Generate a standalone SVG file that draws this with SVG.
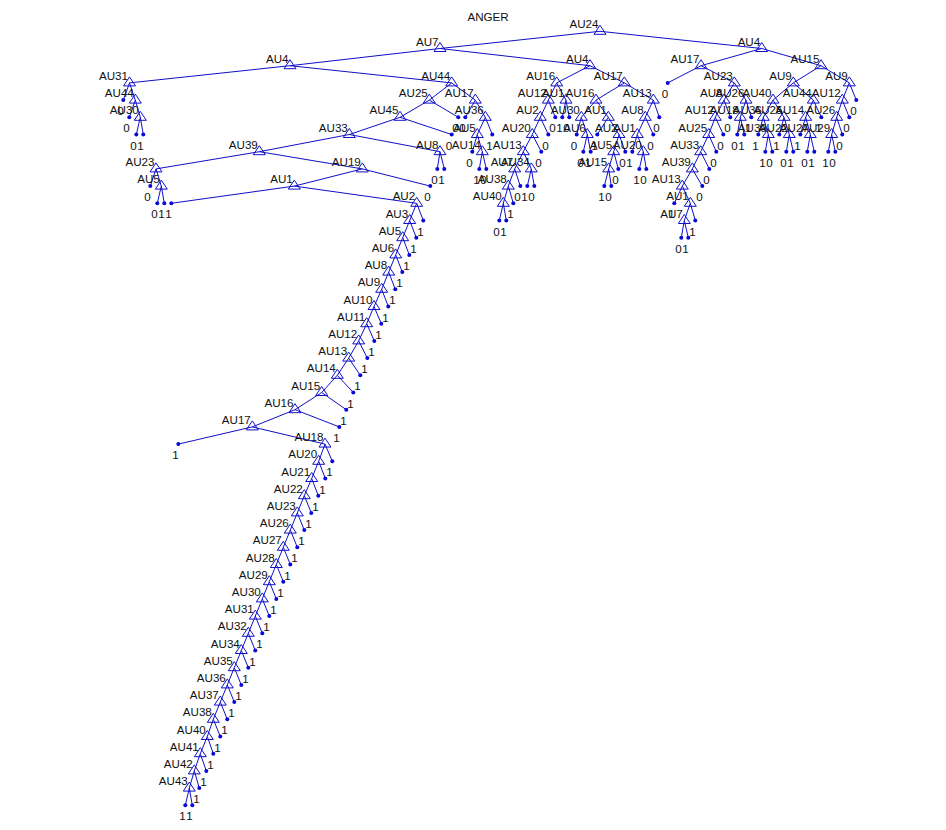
<svg xmlns="http://www.w3.org/2000/svg" width="946" height="830" viewBox="0 0 946 830">
<style>
text{font-family:"Liberation Sans",Arial,sans-serif;font-size:11.6px;fill:#111}
.a{text-anchor:end}
#edges path{fill:none;stroke:#1010c8;stroke-width:1}
.t{fill:none;stroke:#1010c8;stroke-width:1}
.d{fill:#0808d8}
</style>
<defs>
<polygon id="t" class="t" points="0,-6 6,3 -6,3"/>
<circle id="d" class="d" r="2"/>
</defs>
<rect width="946" height="830" fill="#fff"/>
<text id="title" x="467.5" y="20.7">ANGER</text>
<g id="edges">
<path d="M600 31.3L440 48.5"/><path d="M600 31.3L761.7 48.5"/>
<path d="M440 48.5L290 65.7"/><path d="M440 48.5L590 65.7"/>
<path d="M761.7 48.5L701 65.7"/><path d="M761.7 48.5L821 65.7"/>
<path d="M290 65.7L129.5 82.9"/><path d="M290 65.7L451.7 82.9"/>
<path d="M590 65.7L556.7 82.9"/><path d="M590 65.7L624.3 82.9"/>
<path d="M701 65.7L667.7 82.9"/><path d="M701 65.7L734.3 82.9"/>
<path d="M821 65.7L793.3 82.9"/><path d="M821 65.7L849.3 82.9"/>
<path d="M129.5 82.9L123.3 100.1"/><path d="M129.5 82.9L135.3 100.1"/>
<path d="M135.3 100.1L129.3 117.3"/><path d="M135.3 100.1L140.3 117.3"/>
<path d="M140.3 117.3L136.3 134.5"/><path d="M140.3 117.3L143.3 134.5"/>
<path d="M451.7 82.9L429.3 100.1"/><path d="M451.7 82.9L475.3 100.1"/>
<path d="M429.3 100.1L400 117.3"/><path d="M429.3 100.1L458.3 117.3"/>
<path d="M475.3 100.1L465.3 117.3"/><path d="M475.3 100.1L485.3 117.3"/>
<path d="M485.3 117.3L477.3 134.5"/><path d="M485.3 117.3L492.3 134.5"/>
<path d="M477.3 134.5L472.3 151.7"/><path d="M477.3 134.5L482.3 151.7"/>
<path d="M482.3 151.7L479.3 168.9"/><path d="M482.3 151.7L486.3 168.9"/>
<path d="M400 117.3L349.3 134.5"/><path d="M400 117.3L451.7 134.5"/>
<path d="M349.3 134.5L259.3 151.7"/><path d="M349.3 134.5L440 151.7"/>
<path d="M440 151.7L437.3 168.9"/><path d="M440 151.7L444.3 168.9"/>
<path d="M259.3 151.7L156 168.9"/><path d="M259.3 151.7L362.3 168.9"/>
<path d="M156 168.9L150.3 186.1"/><path d="M156 168.9L161.3 186.1"/>
<path d="M161.3 186.1L157.3 203.3"/><path d="M161.3 186.1L164.3 203.3"/>
<path d="M362.3 168.9L294.3 186.1"/><path d="M362.3 168.9L430.3 186.1"/>
<path d="M294.3 186.1L171.3 203.3"/><path d="M294.3 186.1L416.7 203.3"/>
<path d="M416.7 203.3L409.7 220.5"/><path d="M416.7 203.3L423.3 220.5"/>
<path d="M409.7 220.5L402.7 237.7"/><path d="M409.7 220.5L416.3 237.7"/>
<path d="M402.7 237.7L395.7 254.9"/><path d="M402.7 237.7L409.3 254.9"/>
<path d="M395.7 254.9L388.7 272.1"/><path d="M395.7 254.9L402.3 272.1"/>
<path d="M388.7 272.1L381.7 289.3"/><path d="M388.7 272.1L395.3 289.3"/>
<path d="M381.7 289.3L374 306.5"/><path d="M381.7 289.3L388.3 306.5"/>
<path d="M374 306.5L366.7 323.7"/><path d="M374 306.5L381.3 323.7"/>
<path d="M366.7 323.7L358.7 340.9"/><path d="M366.7 323.7L374.3 340.9"/>
<path d="M358.7 340.9L348.7 358.1"/><path d="M358.7 340.9L367.3 358.1"/>
<path d="M348.7 358.1L337.3 375.3"/><path d="M348.7 358.1L360.3 375.3"/>
<path d="M337.3 375.3L321.7 392.5"/><path d="M337.3 375.3L353.3 392.5"/>
<path d="M321.7 392.5L295 409.7"/><path d="M321.7 392.5L346.3 409.7"/>
<path d="M295 409.7L252.3 426.9"/><path d="M295 409.7L339.3 426.9"/>
<path d="M252.3 426.9L178.3 444.1"/><path d="M252.3 426.9L325 444.1"/>
<path d="M325 444.1L318.7 461.3"/><path d="M325 444.1L332.3 461.3"/>
<path d="M318.7 461.3L311.7 478.5"/><path d="M318.7 461.3L325.3 478.5"/>
<path d="M311.7 478.5L304.3 495.7"/><path d="M311.7 478.5L318.3 495.7"/>
<path d="M304.3 495.7L297.3 512.9"/><path d="M304.3 495.7L311.3 512.9"/>
<path d="M297.3 512.9L290.3 530.1"/><path d="M297.3 512.9L304.3 530.1"/>
<path d="M290.3 530.1L283.3 547.3"/><path d="M290.3 530.1L297.3 547.3"/>
<path d="M283.3 547.3L276.3 564.5"/><path d="M283.3 547.3L290.3 564.5"/>
<path d="M276.3 564.5L269.3 581.7"/><path d="M276.3 564.5L283.3 581.7"/>
<path d="M269.3 581.7L262.3 598.9"/><path d="M269.3 581.7L276.3 598.9"/>
<path d="M262.3 598.9L255.3 616.1"/><path d="M262.3 598.9L269.3 616.1"/>
<path d="M255.3 616.1L248.3 633.3"/><path d="M255.3 616.1L262.3 633.3"/>
<path d="M248.3 633.3L241.3 650.5"/><path d="M248.3 633.3L255.3 650.5"/>
<path d="M241.3 650.5L234.3 667.7"/><path d="M241.3 650.5L248.3 667.7"/>
<path d="M234.3 667.7L227.3 684.9"/><path d="M234.3 667.7L241.3 684.9"/>
<path d="M227.3 684.9L220.3 702.1"/><path d="M227.3 684.9L234.3 702.1"/>
<path d="M220.3 702.1L213.3 719.3"/><path d="M220.3 702.1L227.3 719.3"/>
<path d="M213.3 719.3L207.3 736.5"/><path d="M213.3 719.3L220.3 736.5"/>
<path d="M207.3 736.5L200.3 753.7"/><path d="M207.3 736.5L213.3 753.7"/>
<path d="M200.3 753.7L194.3 770.9"/><path d="M200.3 753.7L206.3 770.9"/>
<path d="M194.3 770.9L189.3 788.1"/><path d="M194.3 770.9L199.3 788.1"/>
<path d="M189.3 788.1L185.3 805.3"/><path d="M189.3 788.1L192.3 805.3"/>
<path d="M556.7 82.9L548.3 100.1"/><path d="M556.7 82.9L566 100.1"/>
<path d="M548.3 100.1L540.3 117.3"/><path d="M548.3 100.1L555.3 117.3"/>
<path d="M566 100.1L562.3 117.3"/><path d="M566 100.1L569.3 117.3"/>
<path d="M540.3 117.3L532.3 134.5"/><path d="M540.3 117.3L548.3 134.5"/>
<path d="M532.3 134.5L523.3 151.7"/><path d="M532.3 134.5L541.3 151.7"/>
<path d="M523.3 151.7L514.7 168.9"/><path d="M523.3 151.7L531.3 168.9"/>
<path d="M514.7 168.9L508.3 186.1"/><path d="M514.7 168.9L520.3 186.1"/>
<path d="M531.3 168.9L527.3 186.1"/><path d="M531.3 168.9L534.3 186.1"/>
<path d="M508.3 186.1L503.3 203.3"/><path d="M508.3 186.1L513.3 203.3"/>
<path d="M503.3 203.3L499.3 220.5"/><path d="M503.3 203.3L506.3 220.5"/>
<path d="M624.3 82.9L596 100.1"/><path d="M624.3 82.9L653.3 100.1"/>
<path d="M596 100.1L581.3 117.3"/><path d="M596 100.1L608.3 117.3"/>
<path d="M581.3 117.3L576.7 134.5"/><path d="M581.3 117.3L587.3 134.5"/>
<path d="M587.3 134.5L583.3 151.7"/><path d="M587.3 134.5L590.7 151.7"/>
<path d="M608.3 117.3L597.3 134.5"/><path d="M608.3 117.3L619 134.5"/>
<path d="M619 134.5L613.7 151.7"/><path d="M619 134.5L625.3 151.7"/>
<path d="M613.7 151.7L608.7 168.9"/><path d="M613.7 151.7L618.3 168.9"/>
<path d="M608.7 168.9L604.3 186.1"/><path d="M608.7 168.9L611.3 186.1"/>
<path d="M653.3 100.1L645.3 117.3"/><path d="M653.3 100.1L659.3 117.3"/>
<path d="M645.3 117.3L637.3 134.5"/><path d="M645.3 117.3L653.3 134.5"/>
<path d="M637.3 134.5L632.3 151.7"/><path d="M637.3 134.5L643.3 151.7"/>
<path d="M643.3 151.7L639.3 168.9"/><path d="M643.3 151.7L646.3 168.9"/>
<path d="M734.3 82.9L724 100.1"/><path d="M734.3 82.9L746 100.1"/>
<path d="M724 100.1L715.3 117.3"/><path d="M724 100.1L730.3 117.3"/>
<path d="M715.3 117.3L708.7 134.5"/><path d="M715.3 117.3L723.3 134.5"/>
<path d="M708.7 134.5L700.7 151.7"/><path d="M708.7 134.5L716.3 151.7"/>
<path d="M700.7 151.7L692.3 168.9"/><path d="M700.7 151.7L709.3 168.9"/>
<path d="M692.3 168.9L682.3 186.1"/><path d="M692.3 168.9L702.3 186.1"/>
<path d="M682.3 186.1L674.3 203.3"/><path d="M682.3 186.1L690.3 203.3"/>
<path d="M690.3 203.3L684.3 220.5"/><path d="M690.3 203.3L695.3 220.5"/>
<path d="M684.3 220.5L681.3 237.7"/><path d="M684.3 220.5L688.3 237.7"/>
<path d="M746 100.1L740.3 117.3"/><path d="M746 100.1L751.3 117.3"/>
<path d="M740.3 117.3L737.3 134.5"/><path d="M740.3 117.3L744.3 134.5"/>
<path d="M793.3 82.9L773 100.1"/><path d="M793.3 82.9L813.3 100.1"/>
<path d="M773 100.1L763.3 117.3"/><path d="M773 100.1L784 117.3"/>
<path d="M763.3 117.3L758.3 134.5"/><path d="M763.3 117.3L768.3 134.5"/>
<path d="M768.3 134.5L765.3 151.7"/><path d="M768.3 134.5L772.3 151.7"/>
<path d="M784 117.3L779.3 134.5"/><path d="M784 117.3L789.3 134.5"/>
<path d="M789.3 134.5L786.3 151.7"/><path d="M789.3 134.5L793.3 151.7"/>
<path d="M813.3 100.1L805.7 117.3"/><path d="M813.3 100.1L821.3 117.3"/>
<path d="M805.7 117.3L800.3 134.5"/><path d="M805.7 117.3L810.3 134.5"/>
<path d="M810.3 134.5L807.3 151.7"/><path d="M810.3 134.5L814.3 151.7"/>
<path d="M849.3 82.9L842.3 100.1"/><path d="M849.3 82.9L856.3 100.1"/>
<path d="M842.3 100.1L836.7 117.3"/><path d="M842.3 100.1L849.3 117.3"/>
<path d="M836.7 117.3L831.7 134.5"/><path d="M836.7 117.3L842.3 134.5"/>
<path d="M831.7 134.5L828.3 151.7"/><path d="M831.7 134.5L835.3 151.7"/>
</g>
<g id="nodes">
<g id="n1"><use href="#t" x="600" y="31.3"/><text class="a" x="598.5" y="28.3">AU24</text></g>
<g id="n2"><use href="#t" x="440" y="48.5"/><text class="a" x="438.5" y="45.5">AU7</text></g>
<g id="n3"><use href="#t" x="761.7" y="48.5"/><text class="a" x="760.2" y="45.5">AU4</text></g>
<g id="n4"><use href="#t" x="290" y="65.7"/><text class="a" x="288.5" y="62.7">AU4</text></g>
<g id="n5"><use href="#t" x="590" y="65.7"/><text class="a" x="588.5" y="62.7">AU4</text></g>
<g id="n6"><use href="#t" x="701" y="65.7"/><text class="a" x="699.5" y="62.7">AU17</text></g>
<g id="n7"><use href="#t" x="821" y="65.7"/><text class="a" x="819.5" y="62.7">AU15</text></g>
<g id="n8"><use href="#t" x="129.5" y="82.9"/><text class="a" x="128" y="79.9">AU31</text></g>
<g id="n9"><use href="#t" x="451.7" y="82.9"/><text class="a" x="450.2" y="79.9">AU44</text></g>
<g id="n10"><use href="#t" x="556.7" y="82.9"/><text class="a" x="555.2" y="79.9">AU16</text></g>
<g id="n11"><use href="#t" x="624.3" y="82.9"/><text class="a" x="622.8" y="79.9">AU17</text></g>
<g id="n12"><use href="#t" x="734.3" y="82.9"/><text class="a" x="732.8" y="79.9">AU23</text></g>
<g id="n13"><use href="#t" x="793.3" y="82.9"/><text class="a" x="791.8" y="79.9">AU9</text></g>
<g id="n14"><use href="#t" x="849.3" y="82.9"/><text class="a" x="847.8" y="79.9">AU9</text></g>
<g id="n15"><use href="#t" x="135.3" y="100.1"/><text class="a" x="133.8" y="97.1">AU44</text></g>
<g id="n16"><use href="#t" x="429.3" y="100.1"/><text class="a" x="427.8" y="97.1">AU25</text></g>
<g id="n17"><use href="#t" x="475.3" y="100.1"/><text class="a" x="473.8" y="97.1">AU17</text></g>
<g id="n18"><use href="#t" x="548.3" y="100.1"/><text class="a" x="546.8" y="97.1">AU12</text></g>
<g id="n19"><use href="#t" x="566" y="100.1"/><text class="a" x="564.5" y="97.1">AU1</text></g>
<g id="n20"><use href="#t" x="596" y="100.1"/><text class="a" x="594.5" y="97.1">AU16</text></g>
<g id="n21"><use href="#t" x="653.3" y="100.1"/><text class="a" x="651.8" y="97.1">AU13</text></g>
<g id="n22"><use href="#t" x="724" y="100.1"/><text class="a" x="722.5" y="97.1">AU8</text></g>
<g id="n23"><use href="#t" x="746" y="100.1"/><text class="a" x="744.5" y="97.1">AU26</text></g>
<g id="n24"><use href="#t" x="773" y="100.1"/><text class="a" x="771.5" y="97.1">AU40</text></g>
<g id="n25"><use href="#t" x="813.3" y="100.1"/><text class="a" x="811.8" y="97.1">AU44</text></g>
<g id="n26"><use href="#t" x="842.3" y="100.1"/><text class="a" x="840.8" y="97.1">AU12</text></g>
<g id="n27"><use href="#t" x="140.3" y="117.3"/><text class="a" x="138.8" y="114.3">AU30</text></g>
<g id="n28"><use href="#t" x="400" y="117.3"/><text class="a" x="398.5" y="114.3">AU45</text></g>
<g id="n29"><use href="#t" x="485.3" y="117.3"/><text class="a" x="483.8" y="114.3">AU36</text></g>
<g id="n30"><use href="#t" x="540.3" y="117.3"/><text class="a" x="538.8" y="114.3">AU2</text></g>
<g id="n31"><use href="#t" x="581.3" y="117.3"/><text class="a" x="579.8" y="114.3">AU30</text></g>
<g id="n32"><use href="#t" x="608.3" y="117.3"/><text class="a" x="606.8" y="114.3">AU1</text></g>
<g id="n33"><use href="#t" x="645.3" y="117.3"/><text class="a" x="643.8" y="114.3">AU8</text></g>
<g id="n34"><use href="#t" x="715.3" y="117.3"/><text class="a" x="713.8" y="114.3">AU12</text></g>
<g id="n35"><use href="#t" x="740.3" y="117.3"/><text class="a" x="738.8" y="114.3">AU18</text></g>
<g id="n36"><use href="#t" x="763.3" y="117.3"/><text class="a" x="761.8" y="114.3">AU36</text></g>
<g id="n37"><use href="#t" x="784" y="117.3"/><text class="a" x="782.5" y="114.3">AU25</text></g>
<g id="n38"><use href="#t" x="805.7" y="117.3"/><text class="a" x="804.2" y="114.3">AU14</text></g>
<g id="n39"><use href="#t" x="836.7" y="117.3"/><text class="a" x="835.2" y="114.3">AU26</text></g>
<g id="n40"><use href="#t" x="349.3" y="134.5"/><text class="a" x="347.8" y="131.5">AU33</text></g>
<g id="n41"><use href="#t" x="477.3" y="134.5"/><text class="a" x="475.8" y="131.5">AU5</text></g>
<g id="n42"><use href="#t" x="532.3" y="134.5"/><text class="a" x="530.8" y="131.5">AU20</text></g>
<g id="n43"><use href="#t" x="587.3" y="134.5"/><text class="a" x="585.8" y="131.5">AU6</text></g>
<g id="n44"><use href="#t" x="619" y="134.5"/><text class="a" x="617.5" y="131.5">AU2</text></g>
<g id="n45"><use href="#t" x="637.3" y="134.5"/><text class="a" x="635.8" y="131.5">AU1</text></g>
<g id="n46"><use href="#t" x="708.7" y="134.5"/><text class="a" x="707.2" y="131.5">AU25</text></g>
<g id="n47"><use href="#t" x="768.3" y="134.5"/><text class="a" x="766.8" y="131.5">AU39</text></g>
<g id="n48"><use href="#t" x="789.3" y="134.5"/><text class="a" x="787.8" y="131.5">AU22</text></g>
<g id="n49"><use href="#t" x="810.3" y="134.5"/><text class="a" x="808.8" y="131.5">AU27</text></g>
<g id="n50"><use href="#t" x="831.7" y="134.5"/><text class="a" x="830.2" y="131.5">AU29</text></g>
<g id="n51"><use href="#t" x="259.3" y="151.7"/><text class="a" x="257.8" y="148.7">AU39</text></g>
<g id="n52"><use href="#t" x="440" y="151.7"/><text class="a" x="438.5" y="148.7">AU8</text></g>
<g id="n53"><use href="#t" x="482.3" y="151.7"/><text class="a" x="480.8" y="148.7">AU14</text></g>
<g id="n54"><use href="#t" x="523.3" y="151.7"/><text class="a" x="521.8" y="148.7">AU13</text></g>
<g id="n55"><use href="#t" x="613.7" y="151.7"/><text class="a" x="612.2" y="148.7">AU5</text></g>
<g id="n56"><use href="#t" x="643.3" y="151.7"/><text class="a" x="641.8" y="148.7">AU20</text></g>
<g id="n57"><use href="#t" x="700.7" y="151.7"/><text class="a" x="699.2" y="148.7">AU33</text></g>
<g id="n58"><use href="#t" x="156" y="168.9"/><text class="a" x="154.5" y="165.9">AU23</text></g>
<g id="n59"><use href="#t" x="362.3" y="168.9"/><text class="a" x="360.8" y="165.9">AU19</text></g>
<g id="n60"><use href="#t" x="514.7" y="168.9"/><text class="a" x="513.2" y="165.9">AU7</text></g>
<g id="n61"><use href="#t" x="531.3" y="168.9"/><text class="a" x="529.8" y="165.9">AU34</text></g>
<g id="n62"><use href="#t" x="608.7" y="168.9"/><text class="a" x="607.2" y="165.9">AU15</text></g>
<g id="n63"><use href="#t" x="692.3" y="168.9"/><text class="a" x="690.8" y="165.9">AU39</text></g>
<g id="n64"><use href="#t" x="161.3" y="186.1"/><text class="a" x="159.8" y="183.1">AU5</text></g>
<g id="n65"><use href="#t" x="294.3" y="186.1"/><text class="a" x="292.8" y="183.1">AU1</text></g>
<g id="n66"><use href="#t" x="508.3" y="186.1"/><text class="a" x="506.8" y="183.1">AU38</text></g>
<g id="n67"><use href="#t" x="682.3" y="186.1"/><text class="a" x="680.8" y="183.1">AU13</text></g>
<g id="n68"><use href="#t" x="416.7" y="203.3"/><text class="a" x="415.2" y="200.3">AU2</text></g>
<g id="n69"><use href="#t" x="503.3" y="203.3"/><text class="a" x="501.8" y="200.3">AU40</text></g>
<g id="n70"><use href="#t" x="690.3" y="203.3"/><text class="a" x="688.8" y="200.3">AU1</text></g>
<g id="n71"><use href="#t" x="409.7" y="220.5"/><text class="a" x="408.2" y="217.5">AU3</text></g>
<g id="n72"><use href="#t" x="684.3" y="220.5"/><text class="a" x="682.8" y="217.5">AU7</text></g>
<g id="n73"><use href="#t" x="402.7" y="237.7"/><text class="a" x="401.2" y="234.7">AU5</text></g>
<g id="n74"><use href="#t" x="395.7" y="254.9"/><text class="a" x="394.2" y="251.9">AU6</text></g>
<g id="n75"><use href="#t" x="388.7" y="272.1"/><text class="a" x="387.2" y="269.1">AU8</text></g>
<g id="n76"><use href="#t" x="381.7" y="289.3"/><text class="a" x="380.2" y="286.3">AU9</text></g>
<g id="n77"><use href="#t" x="374" y="306.5"/><text class="a" x="372.5" y="303.5">AU10</text></g>
<g id="n78"><use href="#t" x="366.7" y="323.7"/><text class="a" x="365.2" y="320.7">AU11</text></g>
<g id="n79"><use href="#t" x="358.7" y="340.9"/><text class="a" x="357.2" y="337.9">AU12</text></g>
<g id="n80"><use href="#t" x="348.7" y="358.1"/><text class="a" x="347.2" y="355.1">AU13</text></g>
<g id="n81"><use href="#t" x="337.3" y="375.3"/><text class="a" x="335.8" y="372.3">AU14</text></g>
<g id="n82"><use href="#t" x="321.7" y="392.5"/><text class="a" x="320.2" y="389.5">AU15</text></g>
<g id="n83"><use href="#t" x="295" y="409.7"/><text class="a" x="293.5" y="406.7">AU16</text></g>
<g id="n84"><use href="#t" x="252.3" y="426.9"/><text class="a" x="250.8" y="423.9">AU17</text></g>
<g id="n85"><use href="#t" x="325" y="444.1"/><text class="a" x="323.5" y="441.1">AU18</text></g>
<g id="n86"><use href="#t" x="318.7" y="461.3"/><text class="a" x="317.2" y="458.3">AU20</text></g>
<g id="n87"><use href="#t" x="311.7" y="478.5"/><text class="a" x="310.2" y="475.5">AU21</text></g>
<g id="n88"><use href="#t" x="304.3" y="495.7"/><text class="a" x="302.8" y="492.7">AU22</text></g>
<g id="n89"><use href="#t" x="297.3" y="512.9"/><text class="a" x="295.8" y="509.9">AU23</text></g>
<g id="n90"><use href="#t" x="290.3" y="530.1"/><text class="a" x="288.8" y="527.1">AU26</text></g>
<g id="n91"><use href="#t" x="283.3" y="547.3"/><text class="a" x="281.8" y="544.3">AU27</text></g>
<g id="n92"><use href="#t" x="276.3" y="564.5"/><text class="a" x="274.8" y="561.5">AU28</text></g>
<g id="n93"><use href="#t" x="269.3" y="581.7"/><text class="a" x="267.8" y="578.7">AU29</text></g>
<g id="n94"><use href="#t" x="262.3" y="598.9"/><text class="a" x="260.8" y="595.9">AU30</text></g>
<g id="n95"><use href="#t" x="255.3" y="616.1"/><text class="a" x="253.8" y="613.1">AU31</text></g>
<g id="n96"><use href="#t" x="248.3" y="633.3"/><text class="a" x="246.8" y="630.3">AU32</text></g>
<g id="n97"><use href="#t" x="241.3" y="650.5"/><text class="a" x="239.8" y="647.5">AU34</text></g>
<g id="n98"><use href="#t" x="234.3" y="667.7"/><text class="a" x="232.8" y="664.7">AU35</text></g>
<g id="n99"><use href="#t" x="227.3" y="684.9"/><text class="a" x="225.8" y="681.9">AU36</text></g>
<g id="n100"><use href="#t" x="220.3" y="702.1"/><text class="a" x="218.8" y="699.1">AU37</text></g>
<g id="n101"><use href="#t" x="213.3" y="719.3"/><text class="a" x="211.8" y="716.3">AU38</text></g>
<g id="n102"><use href="#t" x="207.3" y="736.5"/><text class="a" x="205.8" y="733.5">AU40</text></g>
<g id="n103"><use href="#t" x="200.3" y="753.7"/><text class="a" x="198.8" y="750.7">AU41</text></g>
<g id="n104"><use href="#t" x="194.3" y="770.9"/><text class="a" x="192.8" y="767.9">AU42</text></g>
<g id="n105"><use href="#t" x="189.3" y="788.1"/><text class="a" x="187.8" y="785.1">AU43</text></g>
</g>
<g id="leaves">
<g id="l1"><use href="#d" x="667.7" y="82.9"/><text class="a" x="668.2" y="97.9">0</text></g>
<g id="l2"><use href="#d" x="123.3" y="100.1"/><text class="a" x="123.8" y="115.1">0</text></g>
<g id="l3"><use href="#d" x="856.3" y="100.1"/><text class="a" x="856.8" y="115.1">0</text></g>
<g id="l4"><use href="#d" x="129.3" y="117.3"/><text class="a" x="129.8" y="132.3">0</text></g>
<g id="l5"><use href="#d" x="458.3" y="117.3"/><text class="a" x="458.8" y="132.3">0</text></g>
<g id="l6"><use href="#d" x="465.3" y="117.3"/><text class="a" x="465.8" y="132.3">0</text></g>
<g id="l7"><use href="#d" x="555.3" y="117.3"/><text class="a" x="555.8" y="132.3">0</text></g>
<g id="l8"><use href="#d" x="562.3" y="117.3"/><text class="a" x="562.8" y="132.3">1</text></g>
<g id="l9"><use href="#d" x="569.3" y="117.3"/><text class="a" x="569.8" y="132.3">0</text></g>
<g id="l10"><use href="#d" x="659.3" y="117.3"/><text class="a" x="659.8" y="132.3">0</text></g>
<g id="l11"><use href="#d" x="730.3" y="117.3"/><text class="a" x="730.8" y="132.3">0</text></g>
<g id="l12"><use href="#d" x="751.3" y="117.3"/><text class="a" x="751.8" y="132.3">1</text></g>
<g id="l13"><use href="#d" x="821.3" y="117.3"/><text class="a" x="821.8" y="132.3">1</text></g>
<g id="l14"><use href="#d" x="849.3" y="117.3"/><text class="a" x="849.8" y="132.3">0</text></g>
<g id="l15"><use href="#d" x="136.3" y="134.5"/><text class="a" x="136.8" y="149.5">0</text></g>
<g id="l16"><use href="#d" x="143.3" y="134.5"/><text class="a" x="143.8" y="149.5">1</text></g>
<g id="l17"><use href="#d" x="451.7" y="134.5"/><text class="a" x="452.2" y="149.5">0</text></g>
<g id="l18"><use href="#d" x="492.3" y="134.5"/><text class="a" x="492.8" y="149.5">1</text></g>
<g id="l19"><use href="#d" x="548.3" y="134.5"/><text class="a" x="548.8" y="149.5">0</text></g>
<g id="l20"><use href="#d" x="576.7" y="134.5"/><text class="a" x="577.2" y="149.5">0</text></g>
<g id="l21"><use href="#d" x="597.3" y="134.5"/><text class="a" x="597.8" y="149.5">1</text></g>
<g id="l22"><use href="#d" x="653.3" y="134.5"/><text class="a" x="653.8" y="149.5">0</text></g>
<g id="l23"><use href="#d" x="723.3" y="134.5"/><text class="a" x="723.8" y="149.5">0</text></g>
<g id="l24"><use href="#d" x="737.3" y="134.5"/><text class="a" x="737.8" y="149.5">0</text></g>
<g id="l25"><use href="#d" x="744.3" y="134.5"/><text class="a" x="744.8" y="149.5">1</text></g>
<g id="l26"><use href="#d" x="758.3" y="134.5"/><text class="a" x="758.8" y="149.5">1</text></g>
<g id="l27"><use href="#d" x="779.3" y="134.5"/><text class="a" x="779.8" y="149.5">1</text></g>
<g id="l28"><use href="#d" x="800.3" y="134.5"/><text class="a" x="800.8" y="149.5">1</text></g>
<g id="l29"><use href="#d" x="842.3" y="134.5"/><text class="a" x="842.8" y="149.5">0</text></g>
<g id="l30"><use href="#d" x="472.3" y="151.7"/><text class="a" x="472.8" y="166.7">0</text></g>
<g id="l31"><use href="#d" x="541.3" y="151.7"/><text class="a" x="541.8" y="166.7">0</text></g>
<g id="l32"><use href="#d" x="583.3" y="151.7"/><text class="a" x="583.8" y="166.7">0</text></g>
<g id="l33"><use href="#d" x="590.7" y="151.7"/><text class="a" x="591.2" y="166.7">1</text></g>
<g id="l34"><use href="#d" x="625.3" y="151.7"/><text class="a" x="625.8" y="166.7">0</text></g>
<g id="l35"><use href="#d" x="632.3" y="151.7"/><text class="a" x="632.8" y="166.7">1</text></g>
<g id="l36"><use href="#d" x="716.3" y="151.7"/><text class="a" x="716.8" y="166.7">0</text></g>
<g id="l37"><use href="#d" x="765.3" y="151.7"/><text class="a" x="765.8" y="166.7">1</text></g>
<g id="l38"><use href="#d" x="772.3" y="151.7"/><text class="a" x="772.8" y="166.7">0</text></g>
<g id="l39"><use href="#d" x="786.3" y="151.7"/><text class="a" x="786.8" y="166.7">0</text></g>
<g id="l40"><use href="#d" x="793.3" y="151.7"/><text class="a" x="793.8" y="166.7">1</text></g>
<g id="l41"><use href="#d" x="807.3" y="151.7"/><text class="a" x="807.8" y="166.7">0</text></g>
<g id="l42"><use href="#d" x="814.3" y="151.7"/><text class="a" x="814.8" y="166.7">1</text></g>
<g id="l43"><use href="#d" x="828.3" y="151.7"/><text class="a" x="828.8" y="166.7">1</text></g>
<g id="l44"><use href="#d" x="835.3" y="151.7"/><text class="a" x="835.8" y="166.7">0</text></g>
<g id="l45"><use href="#d" x="437.3" y="168.9"/><text class="a" x="437.8" y="183.9">0</text></g>
<g id="l46"><use href="#d" x="444.3" y="168.9"/><text class="a" x="444.8" y="183.9">1</text></g>
<g id="l47"><use href="#d" x="479.3" y="168.9"/><text class="a" x="479.8" y="183.9">1</text></g>
<g id="l48"><use href="#d" x="486.3" y="168.9"/><text class="a" x="486.8" y="183.9">0</text></g>
<g id="l49"><use href="#d" x="618.3" y="168.9"/><text class="a" x="618.8" y="183.9">0</text></g>
<g id="l50"><use href="#d" x="639.3" y="168.9"/><text class="a" x="639.8" y="183.9">1</text></g>
<g id="l51"><use href="#d" x="646.3" y="168.9"/><text class="a" x="646.8" y="183.9">0</text></g>
<g id="l52"><use href="#d" x="709.3" y="168.9"/><text class="a" x="709.8" y="183.9">0</text></g>
<g id="l53"><use href="#d" x="150.3" y="186.1"/><text class="a" x="150.8" y="201.1">0</text></g>
<g id="l54"><use href="#d" x="430.3" y="186.1"/><text class="a" x="430.8" y="201.1">0</text></g>
<g id="l55"><use href="#d" x="520.3" y="186.1"/><text class="a" x="520.8" y="201.1">0</text></g>
<g id="l56"><use href="#d" x="527.3" y="186.1"/><text class="a" x="527.8" y="201.1">1</text></g>
<g id="l57"><use href="#d" x="534.3" y="186.1"/><text class="a" x="534.8" y="201.1">0</text></g>
<g id="l58"><use href="#d" x="604.3" y="186.1"/><text class="a" x="604.8" y="201.1">1</text></g>
<g id="l59"><use href="#d" x="611.3" y="186.1"/><text class="a" x="611.8" y="201.1">0</text></g>
<g id="l60"><use href="#d" x="702.3" y="186.1"/><text class="a" x="702.8" y="201.1">0</text></g>
<g id="l61"><use href="#d" x="157.3" y="203.3"/><text class="a" x="157.8" y="218.3">0</text></g>
<g id="l62"><use href="#d" x="164.3" y="203.3"/><text class="a" x="164.8" y="218.3">1</text></g>
<g id="l63"><use href="#d" x="171.3" y="203.3"/><text class="a" x="171.8" y="218.3">1</text></g>
<g id="l64"><use href="#d" x="513.3" y="203.3"/><text class="a" x="513.8" y="218.3">1</text></g>
<g id="l65"><use href="#d" x="674.3" y="203.3"/><text class="a" x="674.8" y="218.3">1</text></g>
<g id="l66"><use href="#d" x="423.3" y="220.5"/><text class="a" x="423.8" y="235.5">1</text></g>
<g id="l67"><use href="#d" x="499.3" y="220.5"/><text class="a" x="499.8" y="235.5">0</text></g>
<g id="l68"><use href="#d" x="506.3" y="220.5"/><text class="a" x="506.8" y="235.5">1</text></g>
<g id="l69"><use href="#d" x="695.3" y="220.5"/><text class="a" x="695.8" y="235.5">1</text></g>
<g id="l70"><use href="#d" x="416.3" y="237.7"/><text class="a" x="416.8" y="252.7">1</text></g>
<g id="l71"><use href="#d" x="681.3" y="237.7"/><text class="a" x="681.8" y="252.7">0</text></g>
<g id="l72"><use href="#d" x="688.3" y="237.7"/><text class="a" x="688.8" y="252.7">1</text></g>
<g id="l73"><use href="#d" x="409.3" y="254.9"/><text class="a" x="409.8" y="269.9">1</text></g>
<g id="l74"><use href="#d" x="402.3" y="272.1"/><text class="a" x="402.8" y="287.1">1</text></g>
<g id="l75"><use href="#d" x="395.3" y="289.3"/><text class="a" x="395.8" y="304.3">1</text></g>
<g id="l76"><use href="#d" x="388.3" y="306.5"/><text class="a" x="388.8" y="321.5">1</text></g>
<g id="l77"><use href="#d" x="381.3" y="323.7"/><text class="a" x="381.8" y="338.7">1</text></g>
<g id="l78"><use href="#d" x="374.3" y="340.9"/><text class="a" x="374.8" y="355.9">1</text></g>
<g id="l79"><use href="#d" x="367.3" y="358.1"/><text class="a" x="367.8" y="373.1">1</text></g>
<g id="l80"><use href="#d" x="360.3" y="375.3"/><text class="a" x="360.8" y="390.3">1</text></g>
<g id="l81"><use href="#d" x="353.3" y="392.5"/><text class="a" x="353.8" y="407.5">1</text></g>
<g id="l82"><use href="#d" x="346.3" y="409.7"/><text class="a" x="346.8" y="424.7">1</text></g>
<g id="l83"><use href="#d" x="339.3" y="426.9"/><text class="a" x="339.8" y="441.9">1</text></g>
<g id="l84"><use href="#d" x="178.3" y="444.1"/><text class="a" x="178.8" y="459.1">1</text></g>
<g id="l85"><use href="#d" x="332.3" y="461.3"/><text class="a" x="332.8" y="476.3">1</text></g>
<g id="l86"><use href="#d" x="325.3" y="478.5"/><text class="a" x="325.8" y="493.5">1</text></g>
<g id="l87"><use href="#d" x="318.3" y="495.7"/><text class="a" x="318.8" y="510.7">1</text></g>
<g id="l88"><use href="#d" x="311.3" y="512.9"/><text class="a" x="311.8" y="527.9">1</text></g>
<g id="l89"><use href="#d" x="304.3" y="530.1"/><text class="a" x="304.8" y="545.1">1</text></g>
<g id="l90"><use href="#d" x="297.3" y="547.3"/><text class="a" x="297.8" y="562.3">1</text></g>
<g id="l91"><use href="#d" x="290.3" y="564.5"/><text class="a" x="290.8" y="579.5">1</text></g>
<g id="l92"><use href="#d" x="283.3" y="581.7"/><text class="a" x="283.8" y="596.7">1</text></g>
<g id="l93"><use href="#d" x="276.3" y="598.9"/><text class="a" x="276.8" y="613.9">1</text></g>
<g id="l94"><use href="#d" x="269.3" y="616.1"/><text class="a" x="269.8" y="631.1">1</text></g>
<g id="l95"><use href="#d" x="262.3" y="633.3"/><text class="a" x="262.8" y="648.3">1</text></g>
<g id="l96"><use href="#d" x="255.3" y="650.5"/><text class="a" x="255.8" y="665.5">1</text></g>
<g id="l97"><use href="#d" x="248.3" y="667.7"/><text class="a" x="248.8" y="682.7">1</text></g>
<g id="l98"><use href="#d" x="241.3" y="684.9"/><text class="a" x="241.8" y="699.9">1</text></g>
<g id="l99"><use href="#d" x="234.3" y="702.1"/><text class="a" x="234.8" y="717.1">1</text></g>
<g id="l100"><use href="#d" x="227.3" y="719.3"/><text class="a" x="227.8" y="734.3">1</text></g>
<g id="l101"><use href="#d" x="220.3" y="736.5"/><text class="a" x="220.8" y="751.5">1</text></g>
<g id="l102"><use href="#d" x="213.3" y="753.7"/><text class="a" x="213.8" y="768.7">1</text></g>
<g id="l103"><use href="#d" x="206.3" y="770.9"/><text class="a" x="206.8" y="785.9">1</text></g>
<g id="l104"><use href="#d" x="199.3" y="788.1"/><text class="a" x="199.8" y="803.1">1</text></g>
<g id="l105"><use href="#d" x="185.3" y="805.3"/><text class="a" x="185.8" y="820.3">1</text></g>
<g id="l106"><use href="#d" x="192.3" y="805.3"/><text class="a" x="192.8" y="820.3">1</text></g>
</g>
</svg>
